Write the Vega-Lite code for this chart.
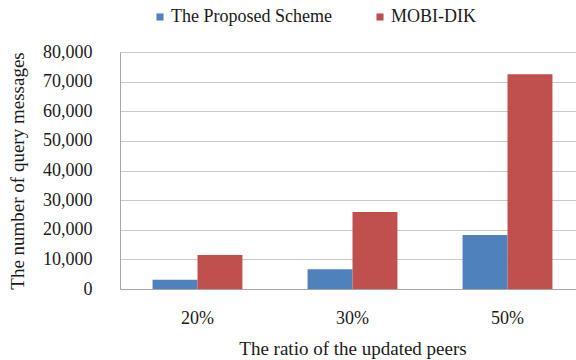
{
  "$schema": "https://vega.github.io/schema/vega-lite/v6.json",
  "autosize": "none",
  "padding": {"left": 120, "top": 52, "right": 0, "bottom": 71},
  "width": 465,
  "height": 237,
  "background": "white",
  "config": {
    "font": "Liberation Serif",
    "view": {"stroke": null},
    "axis": {
      "labelFont": "Liberation Serif",
      "titleFont": "Liberation Serif",
      "labelColor": "#1a1a1a",
      "titleColor": "#1a1a1a",
      "titleFontWeight": "normal",
      "labelFontSize": 18,
      "titleFontSize": 19
    },
    "legend": {
      "labelFont": "Liberation Serif",
      "labelFontSize": 18,
      "labelColor": "#1a1a1a",
      "labelLimit": 0
    }
  },
  "data": {
    "values": [
      {"ratio": "20%", "scheme": "The Proposed Scheme", "messages": 3100},
      {"ratio": "20%", "scheme": "MOBI-DIK", "messages": 11500},
      {"ratio": "30%", "scheme": "The Proposed Scheme", "messages": 6700},
      {"ratio": "30%", "scheme": "MOBI-DIK", "messages": 26000},
      {"ratio": "50%", "scheme": "The Proposed Scheme", "messages": 18200},
      {"ratio": "50%", "scheme": "MOBI-DIK", "messages": 72500}
    ]
  },
  "mark": {"type": "bar"},
  "encoding": {
    "x": {
      "field": "ratio",
      "type": "nominal",
      "sort": ["20%", "30%", "50%"],
      "scale": {"paddingInner": 0.42, "paddingOuter": 0.21},
      "axis": {
        "title": "The ratio of the updated peers",
        "labelAngle": 0,
        "labelPadding": 20,
        "titlePadding": 12,
        "ticks": false,
        "domainColor": "#a6a6a6",
        "domainWidth": 1
      }
    },
    "xOffset": {
      "field": "scheme",
      "type": "nominal",
      "sort": ["The Proposed Scheme", "MOBI-DIK"],
      "scale": {"paddingInner": 0, "paddingOuter": 0}
    },
    "y": {
      "field": "messages",
      "type": "quantitative",
      "scale": {"domain": [0, 80000]},
      "axis": {
        "title": "The number of query messages",
        "values": [0, 10000, 20000, 30000, 40000, 50000, 60000, 70000, 80000],
        "format": ",d",
        "labelPadding": 28,
        "titlePadding": 15,
        "ticks": false,
        "gridColor": "#c8c8c8",
        "gridWidth": 1,
        "domainColor": "#a6a6a6",
        "domainWidth": 1
      }
    },
    "color": {
      "field": "scheme",
      "type": "nominal",
      "sort": ["The Proposed Scheme", "MOBI-DIK"],
      "scale": {
        "domain": ["The Proposed Scheme", "MOBI-DIK"],
        "range": ["#4f81bd", "#c0504d"]
      },
      "legend": {
        "title": null,
        "orient": "none",
        "direction": "horizontal",
        "legendX": 31,
        "legendY": -44,
        "symbolType": "square",
        "symbolSize": 50,
        "symbolStrokeWidth": 0,
        "labelOffset": 2,
        "columnPadding": 39
      }
    }
  }
}
